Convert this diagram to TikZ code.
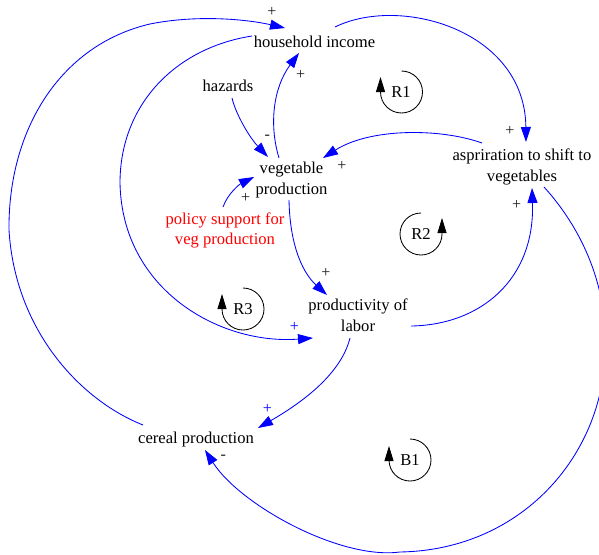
\documentclass[tikz,border=0pt]{standalone}
\usepackage{fontspec}
\setmainfont{Liberation Serif}
\usetikzlibrary{arrows.meta,calc}
\begin{document}
\begin{tikzpicture}[x=1pt,y=-1pt,
  var/.style={font=\fontsize{16.6}{20.5}\selectfont, align=center, inner sep=0pt},
  sign/.style={font=\fontsize{16}{16}\selectfont, inner sep=0pt, text=black!90},
  bluesign/.style={sign, text=blue},
  link/.style={blue, line width=0.85pt, -{Triangle[length=15pt,width=10pt]}},
  loopsym/.style={black, line width=0.85pt, -{Triangle[length=15pt,width=9pt]}},
  looplabel/.style={font=\fontsize{16.6}{16.6}\selectfont, inner sep=0pt}]
\useasboundingbox (0,0) rectangle (599,554);

% variables
\node[var] (hh)   at (314.5,41.5) {household income};
\node[var] (haz)  at (228,86)     {hazards};
\node[var] (veg)  at (291.5,180)  {vegetable\\production};
\node[var, text=red] (pol) at (225,230.5) {policy support for\\veg production};
\node[var] (asp)  at (522,167)    {aspriration to shift to\\vegetables};
\node[var] (prod) at (358,315)    {productivity of\\labor};
\node[var] (cer)  at (196,440)    {cereal production};

% loop markers
\node[looplabel] (r1) at (401,92)  {R1};
\node[looplabel] (r2) at (421,234) {R2};
\node[looplabel] (r3) at (243,309) {R3};
\node[looplabel] (b1) at (410,460) {B1};

\draw[loopsym] ($(r1)+(0.5,-21)$) arc[start angle=-90,end angle=180,radius=21] -- ++(0,-15);
\draw[loopsym] ($(r2)+(0,-21)$) arc[start angle=-90,end angle=-360,radius=21] -- ++(0,-16);
\draw[loopsym] ($(r3)+(0,-21)$) arc[start angle=-90,end angle=180,radius=21] -- ++(0,-15);
\draw[loopsym] ($(b1)+(0,-21)$) arc[start angle=-90,end angle=180,radius=21] -- ++(0,-14);

% causal links
% cereal production -> household income
\draw[link] ($(cer)+(-53,-15)$) .. controls (80,400) and (15,330) .. (9,230)
  .. controls (8,130) and (60,45) .. (150,24)
  .. controls (200,14) and (250,20) .. ($(hh)+(-29.5,-13.5)$);
% household income -> productivity of labor
\draw[link] ($(hh)+(-62.5,-5.5)$) .. controls (175,48) and (120,105) .. (120,183)
  .. controls (122,290) and (220,345) .. ($(prod)+(-45,23)$);
% household income -> aspiration
\draw[link] ($(hh)+(20.5,-14.5)$) .. controls (400,-5) and (525,30) .. ($(asp)+(4,-25)$);
% vegetable production -> household income
\draw[link] ($(veg)+(-12.5,-22)$) .. controls (269,125) and (273,88) .. ($(hh)+(-15.5,11.5)$);
% hazards -> vegetable production
\draw[link] ($(haz)+(4,12)$) .. controls (236,115) and (250,138) .. ($(veg)+(-23.5,-23)$);
% policy support -> vegetable production
\draw[link] ($(pol)+(-2,-23.5)$) .. controls (228,193) and (240,184) .. ($(veg)+(-37.5,-3)$);
% aspiration -> vegetable production
\draw[link] ($(asp)+(-40,-24)$) .. controls (440,128) and (370,128) .. ($(veg)+(31.5,-22)$);
% vegetable production -> productivity of labor
\draw[link] ($(veg)+(-2.5,20)$) .. controls (290,250) and (305,275) .. ($(prod)+(-31,-20)$);
% productivity of labor -> aspiration
\draw[link] ($(prod)+(53,11)$) .. controls (480,325) and (535,280) .. ($(asp)+(10,21)$);
% productivity of labor -> cereal production
\draw[link] ($(prod)+(-8,23)$) .. controls (342,370) and (310,398) .. ($(cer)+(62,-12)$);
% aspiration -> cereal production
\draw[link] ($(asp)+(22,20)$) .. controls (585,232) and (607,290) .. (605,345)
  .. controls (607,450) and (525,550) .. (400,552)
  .. controls (340,560) and (240,505) .. ($(cer)+(9,10)$);

% polarities
\node[sign] (p1)  at (272,12)    {+};
\node[sign] (p2)  at (300.7,75)  {+};
\node[sign] (p3)  at (510,131)   {+};
\node[sign] (p4)  at (267.3,137.5) {-};
\node[sign] (p5)  at (245.7,197.7) {+};
\node[sign] (p6)  at (342,166)   {+};
\node[sign] (p7)  at (326,273.3) {+};
\node[bluesign] (p8) at (294.3,327.3) {+};
\node[sign] (p9)  at (516.7,205) {+};
\node[bluesign] (p10) at (267.3,409.3) {+};
\node[sign] (p11) at (223.3,457.5) {-};
\end{tikzpicture}
\end{document}
